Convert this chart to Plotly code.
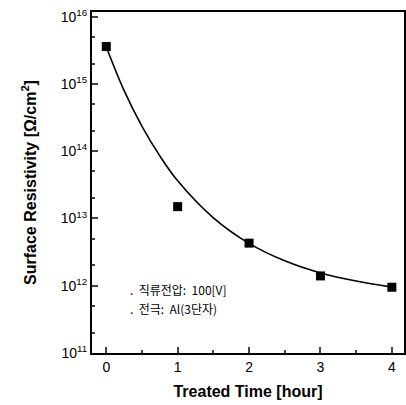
import plotly.graph_objects as go

# measured points
time_h = [0, 1, 2, 3, 4]
resistivity = [3.6e15, 1.5e13, 4.3e12, 1.4e12, 9.5e11]

# fitted curve (log10 values)
curve_t = [0, 0.25, 0.5, 0.75, 1.0, 1.5, 2.0, 2.5, 3.0, 3.5, 4.0]
curve_log = [15.55, 14.9, 14.37, 13.93, 13.56, 13.01, 12.63, 12.37, 12.19, 12.07, 11.98]
curve_val = [10 ** v for v in curve_log]

ytick_vals = [1e11, 1e12, 1e13, 1e14, 1e15, 1e16]
ytick_text = ["10<sup>11</sup>", "10<sup>12</sup>", "10<sup>13</sup>",
              "10<sup>14</sup>", "10<sup>15</sup>", "10<sup>16</sup>"]
xtick_vals = [0, 1, 2, 3, 4]

notes = [".  직류전압:  100[V]", ".  전극:  Al(3단자)"]

fig = go.Figure()
fig.add_trace(go.Scatter(x=curve_t, y=curve_val, mode="lines",
                         line=dict(color="black", width=1.6, shape="spline"),
                         showlegend=False, hoverinfo="skip"))
fig.add_trace(go.Scatter(x=time_h, y=resistivity, mode="markers",
                         marker=dict(symbol="square", size=9, color="black"),
                         showlegend=False))

fig.add_annotation(x=0.3, y=11.95, xref="x", yref="y", text=notes[0],
                   showarrow=False, xanchor="left", yanchor="middle",
                   font=dict(family="Noto Sans CJK KR", size=12, color="black"))
fig.add_annotation(x=0.3, y=11.66, xref="x", yref="y", text=notes[1],
                   showarrow=False, xanchor="left", yanchor="middle",
                   font=dict(family="Noto Sans CJK KR", size=12, color="black"))

fig.update_layout(
    width=406, height=405,
    margin=dict(l=92, r=2, t=12, b=52),
    paper_bgcolor="white", plot_bgcolor="white",
    font=dict(family="Liberation Sans", color="black", size=14),
)
fig.update_xaxes(
    range=[-0.2, 4.17], tickvals=xtick_vals, ticks="inside", ticklen=6, tickwidth=1.5,
    showline=True, linewidth=2, linecolor="black", mirror=True, showgrid=False,
    zeroline=False, automargin=False,
    minor=dict(ticks="inside", ticklen=3, dtick=0.5, showgrid=False),
    title=dict(text="<b>Treated Time [hour]</b>", font=dict(size=16), standoff=12),
)
fig.update_yaxes(
    type="log", range=[11, 16.07], tickvals=ytick_vals, ticktext=ytick_text,
    ticks="inside", ticklen=6, tickwidth=1.5,
    showline=True, linewidth=2, linecolor="black", mirror=True, showgrid=False,
    automargin=False,
    minor=dict(ticks="inside", ticklen=3, showgrid=False),
    title=dict(text="<b>Surface Resistivity [Ω/cm<sup>2</sup>]</b>", font=dict(size=16), standoff=20),
)

fig.write_html("out.html", config={"displayModeBar": False},
               post_script="document.body.style.margin='0';")
